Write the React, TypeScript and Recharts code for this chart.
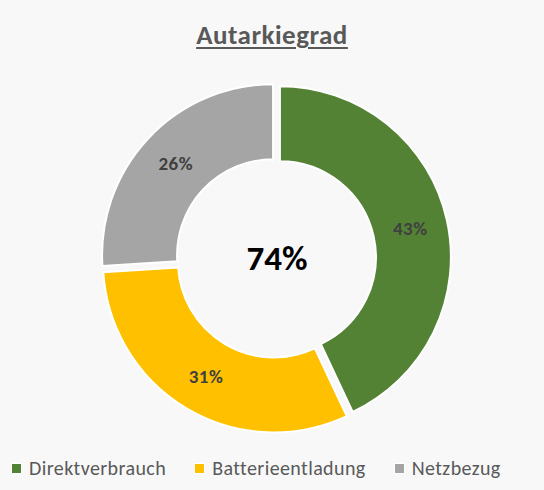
import React from "react";
import { PieChart, Pie, Cell } from "recharts";

const CATEGORIES = ["Direktverbrauch", "Batterieentladung", "Netzbezug"];
const SHARES = [43, 31, 26];
const COLORS = ["#548235", "#FFC000", "#A5A5A5"];
// share of own supply = direct use + battery discharge
const AUTARKY_PARTS = ["Direktverbrauch", "Batterieentladung"];

const W = 544;
const H = 490;
const CX = 276;
const CY = 258;
const INNER = 96;
const OUTER = 171;
const EXPLODE = 4;
const RADIAN = Math.PI / 180;
const FONT = "Carlito, Calibri, Lato, 'Open Sans', sans-serif";

const data = CATEGORIES.map((name, i) => ({ name, value: SHARES[i] }));
const total = SHARES.reduce((a, b) => a + b, 0);
const autarky = data
  .filter((d) => AUTARKY_PARTS.includes(d.name))
  .reduce((a, d) => a + d.value, 0);

// mid angle of each slice (start 90deg, clockwise) for the exploded offset
const midAngles = SHARES.map((v, i) => {
  const before = SHARES.slice(0, i).reduce((a, b) => a + b, 0);
  return 90 - ((before + v / 2) / total) * 360;
});

const renderLabel = (slice: number) => (props: any) => {
  if (props.index !== slice) return null;
  const { cx, cy, midAngle, innerRadius, outerRadius, percent } = props;
  const r = (innerRadius + outerRadius) / 2;
  const x = cx + r * Math.cos(-midAngle * RADIAN);
  const y = cy + r * Math.sin(-midAngle * RADIAN);
  return (
    <text
      x={x}
      y={y}
      textAnchor="middle"
      dominantBaseline="central"
      fill="#404040"
      fontSize={19}
      fontWeight={700}
      letterSpacing={0.5}
      fontFamily={FONT}
    >
      {`${Math.round(percent * 100)}%`}
    </text>
  );
};

export default function App() {
  return (
    <div
      style={{
        position: "fixed",
        left: 0,
        top: 0,
        width: W,
        height: H,
        background: "#F8F8F8",
        fontFamily: FONT,
      }}
    >
      <div
        style={{
          position: "absolute",
          top: 19,
          width: W,
          textAlign: "center",
          fontSize: 27,
          lineHeight: "32px",
          letterSpacing: 0.5,
          fontWeight: 700,
          color: "#595959",
          textDecoration: "underline",
          textDecorationThickness: 2,
          textUnderlineOffset: 3,
        }}
      >
        Autarkiegrad
      </div>

      <PieChart
        width={W}
        height={H}
        margin={{ top: 0, right: 0, bottom: 0, left: 0 }}
        style={{ position: "absolute", left: 0, top: 0 }}
      >
        {midAngles.map((mid, slice) => (
          <Pie
            key={slice}
            data={data}
            dataKey="value"
            nameKey="name"
            cx={CX + EXPLODE * Math.cos(mid * RADIAN)}
            cy={CY - EXPLODE * Math.sin(mid * RADIAN)}
            innerRadius={INNER}
            outerRadius={OUTER}
            startAngle={90}
            endAngle={-270}
            isAnimationActive={false}
            labelLine={false}
            label={renderLabel(slice)}
          >
            {data.map((entry, i) => (
              <Cell
                key={entry.name}
                fill={i === slice ? COLORS[i] : "none"}
                stroke={i === slice ? "#FFFFFF" : "none"}
                strokeWidth={2}
              />
            ))}
          </Pie>
        ))}
      </PieChart>

      <div
        style={{
          position: "absolute",
          left: CX - 79,
          top: CY - 22,
          width: 160,
          textAlign: "center",
          fontSize: 35,
          fontWeight: 700,
          color: "#000000",
          lineHeight: "44px",
        }}
      >
        {`${autarky}%`}
      </div>

      <div
        style={{
          position: "absolute",
          left: 11,
          top: 455,
          display: "flex",
          gap: 28,
          fontSize: 20,
          letterSpacing: 0.4,
          color: "#595959",
          lineHeight: "26px",
        }}
      >
        {data.map((d, i) => (
          <div key={d.name} style={{ display: "flex", alignItems: "center", gap: 7 }}>
            <span
              style={{
                display: "inline-block",
                width: 9,
                height: 9,
                background: COLORS[i],
                border: "1px solid #FFFFFF",
              }}
            />
            {d.name}
          </div>
        ))}
      </div>
    </div>
  );
}
